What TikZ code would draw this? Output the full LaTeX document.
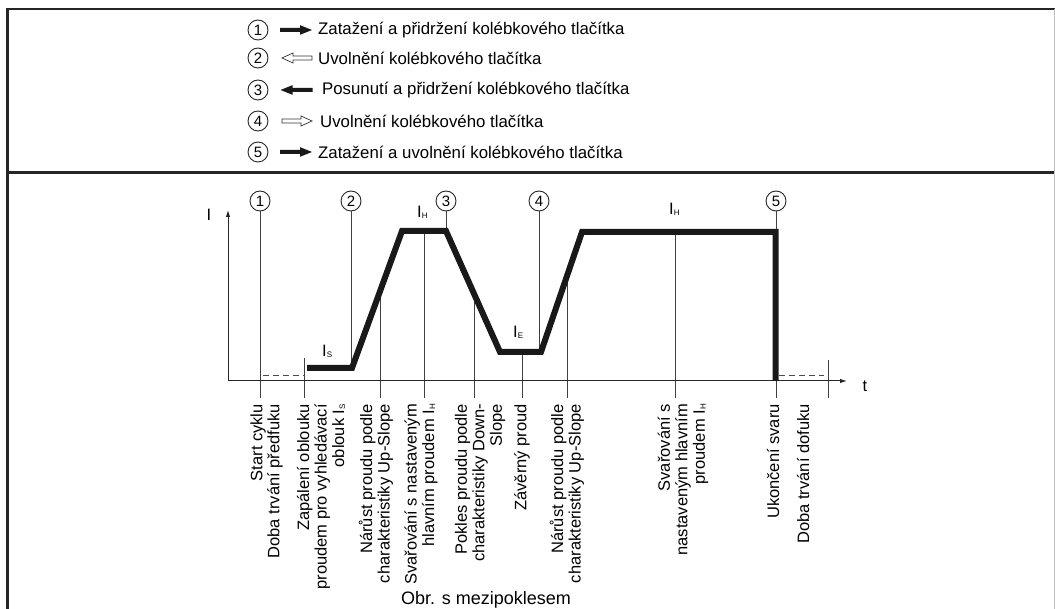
\documentclass[tikz,border=0pt]{standalone}
\usepackage{fontspec}
\setmainfont{Liberation Sans}
\usetikzlibrary{arrows.meta,calc}
\newcommand\lowsub[1]{\raisebox{-1pt}{\fontsize{8}{8}\selectfont #1}}
\begin{document}
\begin{tikzpicture}[x=1pt,y=-1pt]
\useasboundingbox (0,0) rectangle (1055,609);
\tikzset{
  frame/.style={draw=black!85, line width=2.6pt},
  guide/.style={draw=black!75, line width=0.9pt},
  axis/.style={draw=black!85, line width=1pt, -{Latex[length=7pt,width=4.5pt]}},
  curve/.style={draw=black!90, line width=6pt, line join=miter, line cap=butt},
  numc/.style={circle, draw=black!85, line width=0.9pt, minimum size=20pt, inner sep=0pt, fill=white, font=\fontsize{15}{15}\selectfont},
  legtext/.style={anchor=west, inner sep=0pt, font=\fontsize{16.8}{18}\selectfont},
  vlbl/.style={rotate=90, anchor=east, align=right, inner sep=0pt, font=\fontsize{16.5}{17.5}\selectfont},
  dsh/.style={draw=black!70, line width=0.9pt, dash pattern=on 6pt off 4pt},
  sym/.style={inner sep=0pt, font=\fontsize{16.5}{18}\selectfont},
  farrow/.pic={\fill[black!90] (-16,-2) -- (4,-2) -- (4,-4.8) -- (16,0) -- (4,4.8) -- (4,2) -- (-16,2) -- cycle;},
  oarrow/.pic={\draw[black!80, line width=0.7pt, fill=white] (-15,-2) -- (4,-2) -- (4,-5) -- (15,0) -- (4,5) -- (4,2) -- (-15,2) -- cycle;}
}
% frame
\draw[frame] (7.5,609) -- (7.5,9) -- (1055,9);
\draw[frame] (7.5,172.5) -- (1055,172.5);
\draw[draw=black!25, line width=1pt] (1054.5,9) -- (1054.5,609);

% legend
\node[numc] (l1) at (258,30) {1};
\node[numc] (l2) at (258,58) {2};
\node[numc] (l3) at (258,90) {3};
\node[numc] (l4) at (258,121) {4};
\node[numc] (l5) at (258,152) {5};
\pic at (296,30) {farrow};
\pic[rotate=180] at (297,58) {oarrow};
\pic[rotate=180] at (296.5,90) {farrow};
\pic at (297,121) {oarrow};
\pic at (296,152) {farrow};
\node[legtext] (lt1) at (318,30) {Zatažení a přidržení kolébkového tlačítka};
\node[legtext] (lt2) at (318,58) {Uvolnění kolébkového tlačítka};
\node[legtext] (lt3) at (322,90) {Posunutí a přidržení kolébkového tlačítka};
\node[legtext] (lt4) at (320,121) {Uvolnění kolébkového tlačítka};
\node[legtext] (lt5) at (318,152) {Zatažení a uvolnění kolébkového tlačítka};

% plot points
\coordinate (o) at (228,381);
\coordinate (yend) at (228,210);
\coordinate (xend) at (847,381);
\coordinate (s0) at (307,368);
\coordinate (s1) at (352,368);
\coordinate (s2) at (402,231);
\coordinate (s3) at (446,231);
\coordinate (s4) at (500,352);
\coordinate (s5) at (541,352);
\coordinate (s6) at (582,232);
\coordinate (s7) at (775.5,232);
\coordinate (s8) at (775.5,381);

% circles in plot
\node[numc] (c1) at (260,201) {1};
\node[numc] (c2) at (351,201) {2};
\node[numc] (c3) at (446,201) {3};
\node[numc] (c4) at (539,201) {4};
\node[numc] (c5) at (776,201) {5};

% bottom ends of guides
\coordinate (b1) at (260,398);
\coordinate (b2) at (304,398);
\coordinate (t2) at (304,358);
\coordinate (b3) at (380,398);
\coordinate (t3) at (380,291);
\coordinate (b4) at (424,398);
\coordinate (t4) at (424,231);
\coordinate (b5) at (474,398);
\coordinate (t5) at (474,294);
\coordinate (b6) at (522,398);
\coordinate (t6) at (522,352);
\coordinate (b7) at (567,398);
\coordinate (t7) at (567,276);
\coordinate (b8) at (675,398);
\coordinate (t8) at (675,232);
\coordinate (b9) at (776,398);
\coordinate (b10) at (828,398);
\coordinate (t10) at (828,360);
\coordinate (k2) at (351,368);
\coordinate (k3) at (446,231);
\coordinate (k4) at (539,352);

% guides
\draw[guide] (c1.south) -- (b1);
\draw[guide] (t2) -- (b2);
\draw[guide] (t3) -- (b3);
\draw[guide] (t4) -- (b4);
\draw[guide] (t5) -- (b5);
\draw[guide] (t6) -- (b6);
\draw[guide] (t7) -- (b7);
\draw[guide] (t8) -- (b8);
\draw[guide] (c5.south) -- (b9);
\draw[guide] (t10) -- (b10);
\draw[guide] (c2.south) -- (k2);
\draw[guide] (c3.south) -- (k3);
\draw[guide] (c4.south) -- (k4);

% dashed
\coordinate (d1a) at (263,375);
\coordinate (d1b) at (304,375);
\coordinate (d2a) at (779,375);
\coordinate (d2b) at (824,375);
\draw[dsh] (d1a) -- (d1b);
\draw[dsh] (d2a) -- (d2b);

% axes
\draw[axis] (o) -- (yend);
\draw[axis] (o) -- (xend);
\node[sym] (ylab) at (209,215) {I};
\node[sym] (xlab) at (865,386) {t};

% curve
\draw[curve] (s0) -- (s1) -- (s2) -- (s3) -- (s4) -- (s5) -- (s6) -- (s7) -- (s8);

% current labels
\node[sym, anchor=base west] (is) at (322,357) {I\lowsub{S}};
\node[sym, anchor=base west] (ih1) at (417,218) {I\lowsub{H}};
\node[sym, anchor=base west] (ie) at (513,338) {I\lowsub{E}};
\node[sym, anchor=base west] (ih2) at (669,215) {I\lowsub{H}};

% rotated labels
\node[vlbl] (v1) at (258,404) {Start cyklu};
\node[vlbl] (v2) at (275,404) {Doba trvání předfuku};
\node[vlbl] (v3) at (321,404) {Zapálení oblouku\\proudem pro vyhledávací\\oblouk I\lowsub{S}};
\node[vlbl] (v4) at (376,404) {Nárůst proudu podle\\charakteristiky Up-Slope};
\node[vlbl] (v5) at (421,404) {Svařování s nastaveným\\hlavním proudem I\lowsub{H}};
\node[vlbl] (v6) at (480,404) {Pokles proudu podle\\charakteristiky Down-\\Slope};
\node[vlbl] (v7) at (522,404) {Závěrný proud};
\node[vlbl] (v8) at (567,404) {Nárůst proudu podle\\charakteristiky Up-Slope};
\node[vlbl] (v9) at (683,404) {Svařování s\\nastaveným hlavním\\proudem I\lowsub{H}};
\node[vlbl] (v10) at (773,404) {Ukončení svaru};
\node[vlbl] (v11) at (803,404) {Doba trvání dofuku};

% caption
\node[inner sep=0pt, anchor=base, font=\fontsize{18}{20}\selectfont] (cap) at (486,604) {Obr. s mezipoklesem};
\end{tikzpicture}
\end{document}
